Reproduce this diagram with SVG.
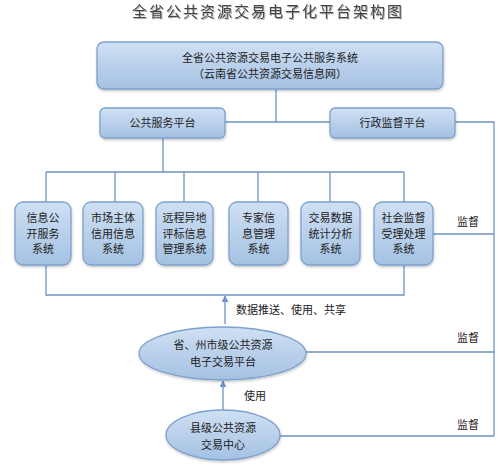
<svg xmlns="http://www.w3.org/2000/svg" width="500" height="468" viewBox="0 0 500 468">
<defs>
<linearGradient id="g" x1="0" y1="0" x2="0" y2="1">
<stop offset="0" stop-color="#cfe0f3"/>
<stop offset="1" stop-color="#a4c1e3"/>
</linearGradient>
<filter id="sh" x="-10%" y="-10%" width="120%" height="130%">
<feDropShadow dx="0.5" dy="1.5" stdDeviation="1" flood-color="#000" flood-opacity="0.22"/>
</filter>
<filter id="tsh" x="-5%" y="-30%" width="110%" height="160%">
<feDropShadow dx="1" dy="1" stdDeviation="0.6" flood-color="#000" flood-opacity="0.3"/>
</filter>
<marker id="arr" viewBox="0 0 8 8" refX="7" refY="4" markerWidth="7" markerHeight="7" markerUnits="userSpaceOnUse" orient="auto">
<path d="M0,0 L8,4 L0,8 z" fill="#6f93c5"/>
</marker>
</defs>
<style>
.n{fill:url(#g);stroke:#7ea1cc;stroke-width:1.3;filter:url(#sh)}
.t{font-family:"Noto Sans CJK SC","Noto Sans",sans-serif;font-size:11px;fill:#222;text-anchor:middle}
.l{font-family:"Noto Sans CJK SC","Noto Sans",sans-serif;font-size:11px;fill:#222}
.c{fill:none;stroke:#6f93c5;stroke-width:1.3}
</style>
<rect width="500" height="468" fill="#fff"/>
<text x="268" y="17" font-family="'Noto Sans CJK SC',sans-serif" font-size="15" letter-spacing="2" fill="#444" text-anchor="middle" filter="url(#tsh)">全省公共资源交易电子化平台架构图</text>

<g id="connectors">
<path class="c" d="M276,89 V122 M225,122 H330 M455,122 H494 V436 M163,138 V172 M46,172 H404 M46,172 V202 M115,172 V202 M184,172 V202 M258,172 V202 M330,172 V202 M404,172 V202 M433,234 H494 M46,265 V295 H404 V265 M306,352 H494 M280,436 H494"/>
<path class="c" d="M225,324 V296" marker-end="url(#arr)"/>
<path class="c" d="M223,410 V381" marker-end="url(#arr)"/>
</g>

<g id="top">
<rect class="n" x="97" y="42" width="346" height="47" rx="7"/>
<text class="t" x="270" y="62">全省公共资源交易电子公共服务系统</text>
<text class="t" x="270" y="78">（云南省公共资源交易信息网）</text>
</g>
<g id="public">
<rect class="n" x="100" y="108" width="125" height="30" rx="5"/>
<text class="t" x="162.5" y="127">公共服务平台</text>
</g>
<g id="admin">
<rect class="n" x="330" y="108" width="125" height="30" rx="5"/>
<text class="t" x="392.5" y="127">行政监督平台</text>
</g>

<g id="s1">
<rect class="n" x="15" y="202" width="56" height="63" rx="8"/>
<text class="t" x="43" y="222">信息公</text><text class="t" x="43" y="238">开服务</text><text class="t" x="43" y="253">系统</text>
</g>
<g id="s2">
<rect class="n" x="83" y="202" width="60" height="63" rx="8"/>
<text class="t" x="113" y="222">市场主体</text><text class="t" x="113" y="238">信用信息</text><text class="t" x="113" y="253">系统</text>
</g>
<g id="s3">
<rect class="n" x="156" y="202" width="57" height="63" rx="8"/>
<text class="t" x="184.5" y="222">远程异地</text><text class="t" x="184.5" y="238">评标信息</text><text class="t" x="184.5" y="253">管理系统</text>
</g>
<g id="s4">
<rect class="n" x="229" y="202" width="59" height="63" rx="8"/>
<text class="t" x="258.5" y="222">专家信</text><text class="t" x="258.5" y="238">息管理</text><text class="t" x="258.5" y="253">系统</text>
</g>
<g id="s5">
<rect class="n" x="301" y="202" width="59" height="63" rx="8"/>
<text class="t" x="330.5" y="222">交易数据</text><text class="t" x="330.5" y="238">统计分析</text><text class="t" x="330.5" y="253">系统</text>
</g>
<g id="s6">
<rect class="n" x="374" y="202" width="59" height="63" rx="8"/>
<text class="t" x="403.5" y="222">社会监督</text><text class="t" x="403.5" y="238">受理处理</text><text class="t" x="403.5" y="253">系统</text>
</g>

<g id="prov">
<ellipse class="n" cx="222.5" cy="353.5" rx="83.5" ry="26.5"/>
<text class="t" x="223" y="349">省、州市级公共资源</text>
<text class="t" x="223" y="366">电子交易平台</text>
</g>
<g id="county">
<ellipse class="n" cx="223" cy="435" rx="57" ry="25"/>
<text class="t" x="223" y="432">县级公共资源</text>
<text class="t" x="223" y="449">交易中心</text>
</g>

<g id="labels">
<text class="l" x="236" y="314">数据推送、使用、共享</text>
<text class="l" x="244" y="400">使用</text>
<text class="l" x="457" y="226">监督</text>
<text class="l" x="457" y="342">监督</text>
<text class="l" x="457" y="429">监督</text>
</g>
</svg>
